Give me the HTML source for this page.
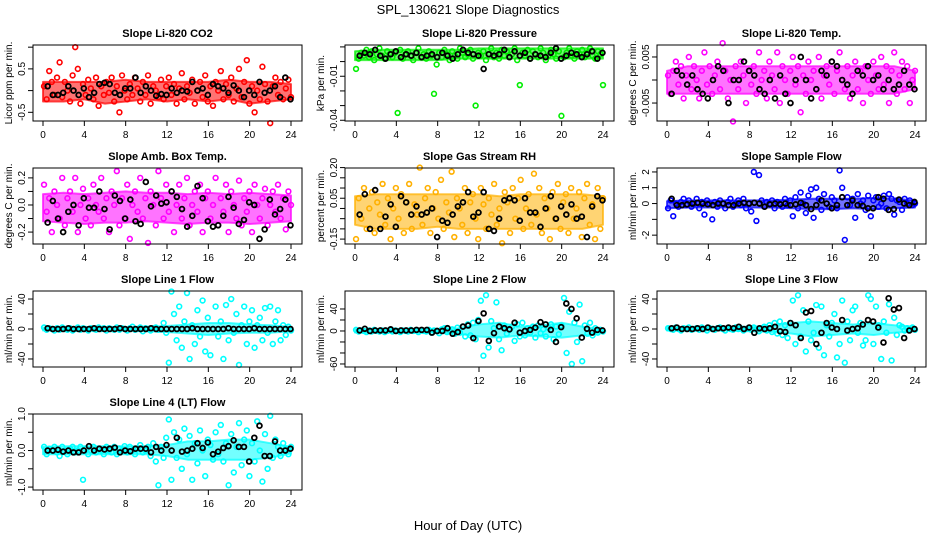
<!DOCTYPE html>
<html><head><meta charset="utf-8"><style>
body{margin:0;background:#fff;}
svg{display:block;font-family:"Liberation Sans",Arial,sans-serif;}
</style></head><body>
<svg id="chart" width="936" height="540" viewBox="0 0 936 540" xmlns="http://www.w3.org/2000/svg">
<text x="468" y="14" text-anchor="middle" font-size="13">SPL_130621  Slope Diagnostics</text>
<text x="468" y="530" text-anchor="middle" font-size="13">Hour of Day (UTC)</text>
</svg>
<script>
const xTicks=[0,4,8,12,16,20,24];
const bandHours=[0,2,4,6,8,10,12,14,16,18,20,22,24];
const co2Color=[0.1,-0.2,0.45,0.2,-0.1,0.3,0.65,-0.15,0.2,0.0,-0.25,0.35,1.0,0.5,-0.3,0.15,-0.1,0.25,0.05,-0.2,0.3,-0.35,0.1,-0.1,0.2,-0.05,0.3,-0.25,0.1,-0.5,0.35,0.0,-0.2,0.15,-0.1,0.3,0.05,-0.25,0.2,-0.1,0.35,-0.3,0.1,0.0,-0.15,0.25,-0.2,0.1,0.3,-0.1,0.15,-0.3,0.05,0.4,-0.2,0.1,-0.05,0.25,-0.3,0.0,0.2,-0.15,0.35,-0.25,0.1,-0.35,0.2,0.0,0.45,-0.2,0.15,-0.1,0.3,-0.25,0.05,0.5,-0.15,0.2,0.7,-0.3,0.1,-0.5,0.0,-0.2,0.55,0.15,-0.25,-0.75,0.1,0.3,-0.1,0.2,-0.2,0.05,0.25,-0.15];
const co2Black=[0.1,-0.1,-0.1,-0.05,0.1,0.0,-0.1,0.05,-0.15,-0.05,0.15,0.18,0.15,-0.05,-0.1,0.05,0.05,0.3,-0.05,0.1,0.0,-0.12,-0.08,-0.1,0.05,-0.05,0.0,-0.02,0.2,0.0,0.05,-0.1,0.15,0.1,0.05,-0.05,0.12,0.0,-0.15,0.0,-0.1,0.2,-0.05,0.0,0.1,-0.15,0.3,-0.2];
const co2BandLo=[-0.25,-0.25,-0.2,-0.3,-0.25,-0.2,-0.25,-0.2,-0.25,-0.2,-0.3,-0.25,-0.2];
const co2BandHi=[0.2,0.2,0.2,0.2,0.25,0.2,0.2,0.2,0.2,0.25,0.2,0.2,0.15];
const presColor=[-0.005,0.002,0.006,0.004,0.008,0.003,0.007,0.001,0.005,0.009,0.004,0.002,0.007,0.005,0.003,0.006,-0.035,0.008,0.002,0.005,0.007,0.004,0.001,0.006,0.009,0.003,0.005,0.002,0.007,0.004,-0.022,-0.002,0.006,0.003,0.008,0.005,0.001,0.007,0.004,0.002,0.009,0.006,0.003,0.005,0.008,0.002,-0.03,0.006,0.004,0.007,0.001,0.005,0.009,0.003,0.006,0.002,0.008,0.004,0.007,0.003,0.005,0.009,0.001,-0.016,0.006,0.004,0.008,0.002,0.007,0.005,0.003,0.009,0.006,0.001,0.004,0.008,0.005,0.002,0.007,-0.037,0.003,0.006,0.009,0.004,0.002,0.007,0.005,0.008,0.003,0.006,0.009,0.004,0.002,0.007,0.005,-0.016];
const presBlack=[0.004,0.006,0.005,0.008,0.004,0.002,0.005,0.007,0.003,0.005,0.004,0.006,0.003,0.004,0.005,0.003,0.006,0.004,0.002,0.005,0.008,0.006,0.005,0.004,-0.005,0.005,0.004,0.005,0.008,0.003,0.007,0.004,0.006,0.002,0.005,0.004,0.003,0.006,0.009,0.002,0.004,0.006,0.005,0.003,0.005,0.007,0.002,0.006];
const presBandLo=[0.001,0.001,0.001,0.001,0.001,0.002,0.002,0.002,0.002,0.002,0.002,0.002,0.002];
const presBandHi=[0.007,0.008,0.008,0.008,0.008,0.008,0.009,0.009,0.009,0.009,0.009,0.009,0.009];
const tempColor=[0.001,-0.003,0.002,0.004,-0.001,0.003,-0.004,0.001,0.005,-0.002,0.003,0.0,-0.004,0.002,0.006,-0.001,0.003,-0.003,0.001,0.004,-0.002,0.008,0.002,-0.004,0.0,-0.009,0.003,-0.002,0.004,0.001,-0.005,0.002,-0.001,0.003,-0.003,0.006,0.0,0.002,-0.004,0.004,0.001,-0.002,0.006,-0.005,0.003,0.0,-0.003,0.002,0.005,-0.001,0.003,-0.007,0.001,-0.003,0.004,0.0,0.002,-0.002,0.005,-0.004,0.001,0.003,-0.001,0.004,-0.003,0.002,0.006,0.0,-0.002,0.003,-0.004,0.001,0.004,-0.002,0.002,-0.005,0.003,0.0,-0.003,0.004,0.001,-0.002,0.005,-0.001,0.003,-0.005,0.002,0.006,-0.003,0.001,0.004,-0.002,0.003,-0.005,0.0,0.002];
const tempBlack=[-0.003,0.002,0.001,-0.001,0.001,-0.002,-0.003,-0.004,0.0,0.003,0.002,-0.005,0.0,0.0,0.004,0.002,0.001,-0.002,-0.003,0.0,-0.004,0.001,-0.003,-0.005,0.0,0.005,0.0,-0.004,-0.002,0.002,0.001,0.004,0.003,0.0,-0.001,-0.003,0.002,0.001,0.003,0.0,0.001,-0.002,0.0,-0.002,-0.001,0.002,-0.001,-0.002];
const tempBandLo=[-0.003,-0.003,-0.003,-0.003,-0.003,-0.003,-0.003,-0.003,-0.003,-0.003,-0.003,-0.003,-0.002];
const tempBandHi=[0.002,0.003,0.003,0.003,0.003,0.003,0.003,0.003,0.003,0.003,0.003,0.003,0.002];
const ambColor=[0.15,-0.05,0.05,-0.2,0.1,0.0,-0.1,0.2,-0.15,0.05,0.1,-0.05,0.2,-0.2,0.0,0.12,-0.1,0.05,-0.15,0.15,0.0,-0.05,0.2,-0.1,0.05,-0.2,0.1,0.0,0.25,-0.15,0.05,-0.1,0.15,-0.25,0.0,0.1,-0.05,0.2,-0.1,0.05,-0.28,0.1,0.0,-0.15,0.25,0.05,-0.1,0.15,-0.05,0.1,-0.2,0.0,0.15,-0.1,0.05,0.2,-0.15,0.0,0.1,-0.05,0.15,-0.2,0.05,0.1,-0.1,0.0,0.2,-0.15,0.05,-0.05,0.15,-0.2,0.1,0.0,-0.1,0.18,-0.15,0.05,-0.05,0.1,-0.2,0.15,0.0,-0.1,0.05,0.12,-0.15,0.0,0.1,-0.05,0.15,-0.1,0.05,-0.18,0.1,0.0];
const ambBlack=[-0.13,0.03,-0.1,-0.2,-0.05,0.0,-0.15,0.05,-0.02,-0.02,0.1,-0.03,-0.18,0.07,0.03,-0.1,0.04,-0.12,-0.14,0.17,-0.01,0.07,0.01,0.02,0.1,0.06,-0.03,-0.16,-0.08,0.14,0.05,-0.12,-0.16,-0.15,-0.08,0.06,-0.02,-0.14,-0.11,0.02,0.0,-0.25,-0.18,0.04,-0.07,-0.03,0.04,-0.15];
const ambBandLo=[-0.12,-0.13,-0.14,-0.13,-0.13,-0.12,-0.13,-0.14,-0.13,-0.13,-0.14,-0.13,-0.12];
const ambBandHi=[0.08,0.09,0.08,0.09,0.1,0.09,0.09,0.08,0.09,0.08,0.09,0.08,0.07];
const rhColor=[-0.15,0.05,-0.05,0.1,-0.1,0.0,0.08,-0.12,0.03,-0.03,0.12,-0.08,0.05,-0.15,0.0,0.1,-0.05,0.07,-0.12,0.03,0.12,-0.1,0.02,-0.03,0.2,-0.08,0.05,0.1,-0.12,0.0,0.08,-0.05,0.14,-0.1,0.03,-0.02,0.18,-0.14,0.05,0.0,-0.08,0.1,-0.12,0.03,0.07,-0.05,-0.15,0.1,0.02,-0.1,0.05,-0.03,0.12,-0.08,0.0,-0.17,0.08,0.03,-0.12,0.1,-0.05,0.05,0.14,-0.1,0.0,0.07,-0.08,0.17,-0.03,0.1,-0.12,0.05,0.0,-0.15,0.08,-0.05,0.12,-0.1,0.03,0.07,-0.12,0.1,-0.05,0.0,0.08,-0.14,0.05,0.12,-0.08,0.02,-0.15,0.1,-0.1,0.05];
const rhBlack=[-0.03,0.07,-0.1,0.09,-0.1,-0.04,0.02,-0.09,0.06,0.03,-0.03,0.01,-0.03,-0.02,0.0,-0.14,-0.06,-0.07,-0.03,0.01,0.03,0.08,-0.04,-0.02,0.08,-0.1,-0.11,-0.05,0.04,0.05,0.04,-0.06,0.05,-0.02,-0.02,-0.09,0.0,0.06,-0.05,0.01,-0.03,0.02,-0.05,-0.04,-0.14,0.01,0.06,0.04];
const rhBandLo=[-0.08,-0.1,-0.1,-0.1,-0.09,-0.1,-0.1,-0.1,-0.1,-0.1,-0.1,-0.1,-0.08];
const rhBandHi=[0.06,0.07,0.07,0.07,0.07,0.07,0.07,0.06,0.07,0.07,0.07,0.07,0.06];
const sampColor=[-0.3,0.2,-0.8,0.0,-0.2,0.1,0.3,-0.1,0.2,-0.2,0.0,0.3,-0.3,0.1,-0.7,0.2,0.0,-1.0,0.1,-0.2,0.2,0.0,-0.3,0.1,0.3,-0.2,0.0,0.2,-0.1,0.3,-0.3,0.0,-0.5,2.0,-1.1,1.8,0.2,-0.2,0.1,0.0,0.2,-0.3,0.1,0.0,-0.2,0.3,-0.1,0.2,-0.8,0.4,-0.3,0.7,0.0,-0.6,0.5,0.9,-0.9,1.0,0.3,-0.4,0.6,0.0,-0.2,0.4,0.2,-0.3,2.1,1.0,-2.3,0.4,-0.1,0.3,-0.9,0.6,0.0,0.2,-0.4,0.5,-0.8,0.2,0.4,-0.2,0.0,0.5,-0.3,0.6,0.3,-0.7,0.2,0.1,-0.4,0.3,0.0,0.2,-0.1,0.0];
const sampBlack=[0.3,-0.1,-0.1,-0.05,0.0,0.05,0.0,-0.05,-0.1,0.0,0.0,-0.1,-0.1,0.0,0.05,0.0,0.05,0.0,-0.2,-0.05,0.0,-0.05,0.0,-0.1,-0.05,0.05,-0.1,-0.35,-0.1,0.2,0.0,-0.3,-0.1,0.4,-0.1,0.2,-0.1,-0.15,-0.3,-0.3,0.4,0.3,-0.4,-0.35,0.25,0.0,-0.1,0.1];
const sampBandLo=[-0.3,-0.25,-0.25,-0.25,-0.25,-0.25,-0.3,-0.35,-0.35,-0.3,-0.35,-0.3,-0.25];
const sampBandHi=[0.15,0.2,0.2,0.2,0.2,0.2,0.25,0.3,0.3,0.3,0.35,0.3,0.2];
const l1Color=[2,-1,1,0,-2,1,-1,2,0,-1,1,-2,0,2,-1,1,0,-2,1,0,-1,2,0,1,-2,1,0,-1,2,-1,1,0,-2,1,3,-1,0,2,-3,1,0,-2,1,2,-1,0,8,-5,-45,50,20,-15,30,-25,10,48,-40,5,-20,25,-10,38,-30,15,-35,0,30,-10,10,-40,32,-15,40,-5,20,-48,5,30,-20,10,25,-25,5,15,-15,28,-5,30,-20,10,25,-15,5,-8,3,-2];
const l1Black=[1,0,0,0,1,0,0,0,0,1,0,0,0,0,1,0,0,0,0,0,1,0,0,0,0,0,0,0,1,0,0,0,0,0,0,1,0,0,0,0,1,0,0,0,0,0,0,0];
const l1BandLo=[-2,-2,-2,-2,-2,-3,-4,-6,-8,-6,-5,-5,-3];
const l1BandHi=[2,2,2,2,2,3,4,6,8,8,6,5,3];
const l2Color=[2,-1,1,0,-2,1,-1,2,0,-1,1,-2,0,2,-1,1,0,-2,1,0,-1,2,0,1,-2,1,0,-1,2,-3,1,0,-4,3,5,-2,0,3,-5,6,-3,8,-10,12,-8,15,-15,20,55,-45,65,-30,18,5,52,-15,-35,10,-5,2,8,-18,12,-10,15,-8,5,-3,8,-12,10,-4,3,-10,6,12,-15,8,-6,10,60,-40,35,-60,15,-20,48,-55,10,-5,15,-8,5,-3,2,-1];
const l2Black=[1,4,0,1,1,1,3,0,1,1,1,2,2,2,-3,0,0,5,-5,-2,8,10,-13,18,32,-18,-4,8,5,3,15,-3,0,2,6,16,12,2,-20,7,50,40,23,-12,4,-3,2,1];
const l2BandLo=[-3,-3,-3,-3,-3,-5,-10,-12,-8,-10,-12,-8,-3];
const l2BandHi=[3,3,3,3,3,5,12,15,8,10,15,8,3];
const l3Color=[1,0,-1,2,0,-2,1,0,2,-1,0,1,-1,2,0,-2,1,0,-1,1,2,0,-2,1,0,-1,2,0,1,-2,0,1,-1,2,0,-3,1,3,-2,5,-4,8,-6,10,-8,5,-12,8,38,-20,45,-10,25,-30,10,-15,-5,32,-25,30,-35,5,-10,8,20,-38,-20,38,-45,10,-15,25,30,-5,8,-22,-15,45,40,-20,30,5,-40,10,-5,33,-42,15,-8,5,3,-2,1,0,2,-1];
const l3Black=[1,2,0,0,0,1,0,2,0,1,1,2,1,3,0,2,-5,1,0,1,3,-3,-4,8,5,-12,22,24,-20,-5,8,2,0,12,-2,0,1,6,12,10,2,-18,41,26,28,-12,-2,0];
const l3BandLo=[-2,-2,-2,-2,-3,-4,-6,-10,-8,-6,-8,-5,-3];
const l3BandHi=[2,2,2,2,3,4,8,10,8,6,8,5,3];
const l4Color=[0.1,-0.1,0.05,0.0,0.1,-0.05,-0.15,0.1,0.0,-0.1,0.05,0.1,-0.05,0.0,0.1,-0.8,0.05,-0.1,0.0,0.1,-0.05,0.05,0.0,-0.1,0.1,0.0,-0.05,0.1,-0.1,0.05,0.0,0.12,-0.05,0.1,0.0,-0.1,0.05,0.15,-0.05,0.0,0.1,-0.15,0.2,-0.3,-0.95,0.1,-0.2,0.35,0.85,-0.8,0.5,-0.2,0.3,-0.5,0.6,-0.1,0.4,-0.8,0.2,-0.35,0.55,0.0,-0.7,0.3,0.15,-0.25,0.5,-0.1,0.7,-0.3,0.2,-0.95,0.45,-0.6,0.1,0.75,-0.4,0.3,0.55,-0.7,0.2,-0.3,0.8,0.0,-0.85,0.45,-0.5,0.95,-0.2,0.3,0.1,-0.15,0.2,0.05,-0.1,0.1];
const l4Black=[0.0,0.0,0.02,-0.03,0.0,-0.05,-0.05,0.0,0.12,0.0,0.05,0.03,0.05,0.08,-0.05,0.0,-0.02,0.05,0.05,0.05,-0.05,0.1,0.0,0.15,0.0,0.35,-0.03,0.0,0.05,0.2,0.07,0.22,-0.1,-0.03,0.07,0.12,0.28,0.1,0.1,-0.3,0.35,0.68,-0.15,-0.15,0.25,0.0,0.0,0.05];
const l4BandLo=[-0.1,-0.1,-0.1,-0.1,-0.1,-0.1,-0.15,-0.25,-0.25,-0.25,-0.25,-0.2,-0.08];
const l4BandHi=[0.1,0.12,0.12,0.12,0.12,0.12,0.15,0.25,0.25,0.3,0.3,0.2,0.1];
const co2Ticks=[1.0,0.5,0,-0.5], co2Labels=['','0.5','','-0.5'];
const presTicks=[0.01,0,-0.01,-0.02,-0.03,-0.04], presLabels=['','','-0.01','','','-0.04'];
const tempTicks=[0.005,0,-0.005], tempLabels=['0.005','','-0.005'];
const ambTicks=[0.2,0.1,0,-0.1,-0.2], ambLabels=['0.2','','0.0','','-0.2'];
const rhTicks=[0.2,0.15,0.1,0.05,0,-0.05,-0.1,-0.15], rhLabels=['0.20','','','0.05','','','','-0.15'];
const sampTicks=[2,1,0,-1,-2], sampLabels=['2','1','0','','-2'];
const l1Ticks=[40,20,0,-20,-40], l1Labels=['40','','0','','-40'];
const l2Ticks=[40,20,0,-20,-40,-60], l2Labels=['40','','0','','','-60'];
const l4Ticks=[1,0.5,0,-0.5,-1], l4Labels=['1.0','','0.0','','-1.0'];

const NS='http://www.w3.org/2000/svg';
const svg=document.getElementById('chart');
function mk(tag,attrs,parent){const e=document.createElementNS(NS,tag);for(const k in attrs)e.setAttribute(k,attrs[k]);(parent||svg).appendChild(e);return e;}
const colL=[33,345,657], rowT=[45,168,291,414], BW=269, BH=76;
const panels=[
 {key:'co2',title:'Slope Li-820 CO2',ylab:'Licor ppm per min.',c:0,r:0,dom:[-0.70,1.05],col:'#ff0000',cv:co2Color,bv:co2Black,lo:co2BandLo,hi:co2BandHi,t:co2Ticks,tl:co2Labels},
 {key:'pressure',title:'Slope Li-820 Pressure',ylab:'kPa per min.',c:1,r:0,dom:[-0.0405,0.0113],col:'#00ee00',cv:presColor,bv:presBlack,lo:presBandLo,hi:presBandHi,t:presTicks,tl:presLabels},
 {key:'temp',title:'Slope Li-820 Temp.',ylab:'degrees C per min.',c:2,r:0,dom:[-0.0089,0.0076],col:'#ff00ff',cv:tempColor,bv:tempBlack,lo:tempBandLo,hi:tempBandHi,t:tempTicks,tl:tempLabels},
 {key:'amb-box-temp',title:'Slope Amb. Box Temp.',ylab:'degrees C per min.',c:0,r:1,dom:[-0.288,0.273],col:'#ff00ff',cv:ambColor,bv:ambBlack,lo:ambBandLo,hi:ambBandHi,t:ambTicks,tl:ambLabels},
 {key:'gas-rh',title:'Slope Gas Stream RH',ylab:'percent per min.',c:1,r:1,dom:[-0.174,0.198],col:'#ffb000',cv:rhColor,bv:rhBlack,lo:rhBandLo,hi:rhBandHi,t:rhTicks,tl:rhLabels},
 {key:'sample-flow',title:'Slope Sample Flow',ylab:'ml/min per min.',c:2,r:1,dom:[-2.56,2.25],col:'#0000ff',cv:sampColor,bv:sampBlack,lo:sampBandLo,hi:sampBandHi,t:sampTicks,tl:sampLabels},
 {key:'line1-flow',title:'Slope Line 1 Flow',ylab:'ml/min per min.',c:0,r:2,dom:[-50.7,50.7],col:'#00ffff',cv:l1Color,bv:l1Black,lo:l1BandLo,hi:l1BandHi,t:l1Ticks,tl:l1Labels},
 {key:'line2-flow',title:'Slope Line 2 Flow',ylab:'ml/min per min.',c:1,r:2,dom:[-65.5,72.7],col:'#00ffff',cv:l2Color,bv:l2Black,lo:l2BandLo,hi:l2BandHi,t:l2Ticks,tl:l2Labels},
 {key:'line3-flow',title:'Slope Line 3 Flow',ylab:'ml/min per min.',c:2,r:2,dom:[-50.7,50.7],col:'#00ffff',cv:l3Color,bv:l3Black,lo:l3BandLo,hi:l3BandHi,t:l1Ticks,tl:l1Labels},
 {key:'line4-flow',title:'Slope Line 4 (LT) Flow',ylab:'ml/min per min.',c:0,r:3,dom:[-1.08,1.0],col:'#00ffff',cv:l4Color,bv:l4Black,lo:l4BandLo,hi:l4BandHi,t:l4Ticks,tl:l4Labels}
];
panels.forEach(p=>{
  const L=colL[p.c], T=rowT[p.r];
  const xs=h=>L+10+h*(248/24);
  const ys=v=>T+BH-(v-p.dom[0])/(p.dom[1]-p.dom[0])*BH;
  const g=mk('g',{});
  
  
  const tt=mk('text',{x:L+BW/2,y:T-8,'text-anchor':'middle','font-size':'11','font-weight':'bold'},g);
  tt.textContent=p.title;
  
  
  const yl=mk('text',{transform:`translate(${L-21},${T+BH/2}) rotate(-90)`,'text-anchor':'middle','font-size':'10'},g);
  yl.textContent=p.ylab;
  
  
  let d='';
  bandHours.forEach((h,i)=>{d+=(i?'L':'M')+xs(h).toFixed(1)+','+ys(p.hi[i]).toFixed(1);});
  for(let i=bandHours.length-1;i>=0;i--){d+='L'+xs(bandHours[i]).toFixed(1)+','+ys(p.lo[i]).toFixed(1);}
  const band=mk('path',{d:d+'Z',fill:p.col,'fill-opacity':'0.55',stroke:p.col,'stroke-opacity':'0.7','stroke-width':'2','stroke-linejoin':'round'},g);
  
  
  const ma=mk('g',{fill:'none',stroke:p.col,'stroke-width':'1.6'},g);
  
  
  const n=p.cv.length;
  p.cv.forEach((v,i)=>{
    const c=mk('circle',{cx:xs(0.1+i*23.9/(n-1)),cy:ys(v),r:2.4},ma);
    
    
  });
  const mb=mk('g',{fill:'none',stroke:'#000','stroke-width':'1.8'},g);
  
  
  p.bv.forEach((v,i)=>{
    const c=mk('circle',{cx:xs(0.5+i*0.5-0.05),cy:ys(v),r:2.4},mb);
    
    
  });
  const box=mk('rect',{x:L,y:T,width:BW,height:BH,fill:'none',stroke:'#000','stroke-width':'1'},g);
  
  
  xTicks.forEach(h=>{
    mk('line',{x1:xs(h),x2:xs(h),y1:T+BH,y2:T+BH+5,stroke:'#000'},g);
    const t=mk('text',{x:xs(h),y:T+BH+17,'text-anchor':'middle','font-size':'10'},g);
    t.textContent=h;
    
    
  });
  p.t.forEach((v,i)=>{
    const y=ys(v);
    mk('line',{x1:L-5,x2:L,y1:y,y2:y,stroke:'#000'},g);
    if(p.tl[i]){
      const t=mk('text',{transform:`translate(${L-8},${y}) rotate(-90)`,'text-anchor':'middle','font-size':'10'},g);
      t.textContent=p.tl[i];
      
      
    }
  });
});
</script>
</body></html>
